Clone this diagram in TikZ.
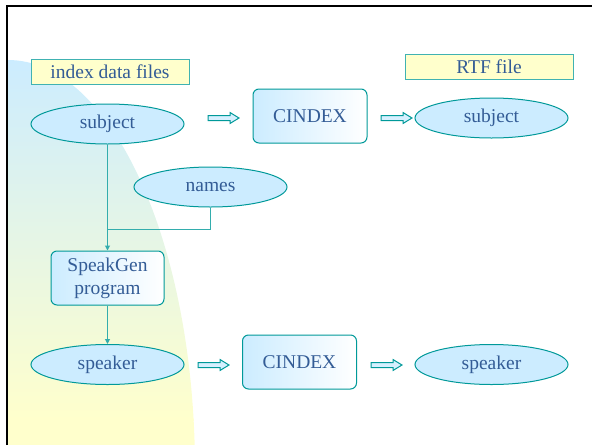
\documentclass[tikz,border=0pt]{standalone}
\usepackage{fontspec}
\setmainfont{Liberation Serif}
\newfontfamily\figfont{Liberation Serif}
\usetikzlibrary{shapes.geometric,arrows.meta}

\definecolor{txtblue}{RGB}{51,92,150}
\definecolor{teal1}{RGB}{0,153,153}
\definecolor{skyfill}{RGB}{204,236,255}
\definecolor{paleyel}{RGB}{255,255,204}

\tikzset{
  every node/.style={text=txtblue, font=\figfont\fontsize{19.5}{23}\selectfont},
  datafile/.style={ellipse, draw=teal1, fill=skyfill, line width=1pt, minimum width=153pt, minimum height=40pt, inner sep=0pt},
  prog/.style={rectangle, rounded corners=6pt, draw=teal1, line width=1pt, left color=skyfill, right color=white, minimum width=114pt, minimum height=54pt, align=center, inner sep=0pt},
  caption/.style={rectangle, draw=teal1!75, line width=1pt, fill=paleyel, minimum height=25pt, inner sep=0pt},
  conn/.style={draw=teal1!80, line width=1pt},
  blockarrow/.pic={
    \draw[teal1, fill=skyfill!80, line width=1pt]
      (0,-2.5) -- (22,-2.5) -- (22,-5.5) -- (31,0) -- (22,5.5) -- (22,2.5) -- (0,2.5) -- cycle;
  }
}

\begin{document}
\begin{tikzpicture}[x=1pt,y=-1pt]
    \useasboundingbox (0,0) rectangle (592,445);

    % background curve
    \begin{scope}
        \clip (8,470) ellipse [x radius=187, y radius=410];
        \shade[top color=skyfill, bottom color=paleyel] (8,60) rectangle (200,420);
        \fill[paleyel] (8,419) rectangle (200,445);
    \end{scope}
    \draw[line width=2.5pt] (7,445) -- (7,6) -- (592,6);

    % captions
    \node[caption, minimum width=158pt] (idxcap) at (110,71.5) {index data files};
    \node[caption, minimum width=168pt] (rtfcap) at (489,66.5) {RTF file};

    % top row
    \node[datafile] (subjA) at (107.5,124) {subject};
    \node[prog] (cindexA) at (310,116) {CINDEX};
    \node[datafile] (subjB) at (491.5,118) {subject};
    \node[datafile] (names) at (210.5,187) {names};

    % middle
    \node[prog, minimum width=113pt] (speakgen) at (107.5,278) {SpeakGen\\program};

    % bottom row
    \node[datafile] (spkA) at (107.5,364.5) {speaker};
    \node[prog] (cindexB) at (299.5,362) {CINDEX};
    \node[datafile] (spkB) at (491.5,364.5) {speaker};

    % block arrows
    \pic at (208,118) {blockarrow};
    \pic at (381,118) {blockarrow};
    \pic at (198,365) {blockarrow};
    \pic at (371,365) {blockarrow};

    % connectors
    \coordinate (join) at (107.5,229);
    \draw[conn, -{Triangle[width=5pt,length=5pt]}] (subjA.south) -- (speakgen.north);
    \draw[conn] (names.south) |- (join);
    \draw[conn, -{Triangle[width=5pt,length=5pt]}] (speakgen.south) -- (spkA.north);
\end{tikzpicture}
\end{document}
